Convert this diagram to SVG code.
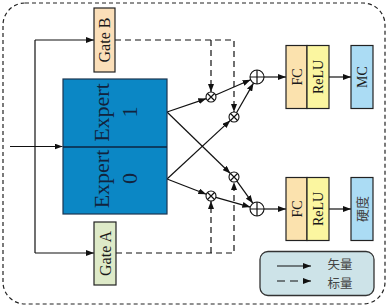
<svg xmlns="http://www.w3.org/2000/svg" width="388" height="307" viewBox="0 0 388 307">
<defs>
<marker id="ah" markerUnits="userSpaceOnUse" markerWidth="8" markerHeight="6" refX="8" refY="3" orient="auto"><path d="M0,0 L8,3 L0,6 z" fill="#111"/></marker>
<style>
.ln{stroke:#111;stroke-width:1.2;fill:none}
.ds{stroke:#111;stroke-width:1.2;fill:none;stroke-dasharray:6 4}
.box{stroke:#222;stroke-width:1.2}
.t{font-family:"Liberation Serif","Times New Roman",serif;fill:#1a1a1a;text-anchor:middle}
.ex{fill:#12233d}
.cjk{font-family:"Noto Sans CJK SC","Noto Sans",sans-serif;fill:#444;text-anchor:middle}
.op{fill:#fff;stroke:#111;stroke-width:1.1}
</style>
</defs>
<rect x="3" y="3" width="382" height="301" rx="22" fill="#fff" stroke="#222" stroke-width="1.2" stroke-dasharray="4 3"/>
<g id="connectors">
<path class="ln" d="M10,146.5 H62.5" marker-end="url(#ah)"/>
<path class="ln" d="M35,40 V253"/>
<path class="ln" d="M35,40 H94" marker-end="url(#ah)"/>
<path class="ln" d="M35,253 H94" marker-end="url(#ah)"/>
<path class="ds" d="M115,40 H234 V112" marker-end="url(#ah)"/>
<path class="ds" d="M211,40 V92" marker-end="url(#ah)"/>
<path class="ds" d="M116,253 H234 V182" marker-end="url(#ah)"/>
<path class="ds" d="M211,253 V201" marker-end="url(#ah)"/>
<path class="ln" d="M167,112 L206.3,98.6" marker-end="url(#ah)"/>
<path class="ln" d="M167,112 L230.4,173.5" marker-end="url(#ah)"/>
<path class="ln" d="M167,179 L230.3,120.4" marker-end="url(#ah)"/>
<path class="ln" d="M167,179 L206.3,194.2" marker-end="url(#ah)"/>
<path class="ln" d="M215.6,95 L250.6,79.8" marker-end="url(#ah)"/>
<path class="ln" d="M236.5,112.7 L253.5,83.1" marker-end="url(#ah)"/>
<path class="ln" d="M236.9,181.1 L252.9,203.3" marker-end="url(#ah)"/>
<path class="ln" d="M215.8,197.4 L250.3,207.1" marker-end="url(#ah)"/>
<path class="ln" d="M264,77 H286" marker-end="url(#ah)"/>
<path class="ln" d="M264,209 H286" marker-end="url(#ah)"/>
<path class="ln" d="M329,77 H351" marker-end="url(#ah)"/>
<path class="ln" d="M329,209 H351" marker-end="url(#ah)"/>
</g>
<g id="gateB">
<rect class="box" x="94" y="8" width="21" height="64" fill="#fbdfb9"/>
<text class="t" font-size="16" transform="translate(110,40) rotate(-90)">Gate B</text>
</g>
<g id="gateA">
<rect class="box" x="94" y="222" width="22" height="63" fill="#deeac8"/>
<text class="t" font-size="16" transform="translate(111,253.5) rotate(-90)">Gate A</text>
</g>
<g id="experts">
<rect x="63" y="79" width="104" height="135" fill="#0b87c5" stroke="#1b3550" stroke-width="1.2"/>
<line x1="63" y1="147" x2="167" y2="147" stroke="#0d2540" stroke-width="1.6"/>
<g id="expert1">
<text class="t ex" font-size="22" transform="translate(109,112.5) rotate(-90)">Expert</text>
<text class="t ex" font-size="22" transform="translate(136.5,112) rotate(-90)">1</text>
</g>
<g id="expert0">
<text class="t ex" font-size="22" transform="translate(109,179) rotate(-90)">Expert</text>
<text class="t ex" font-size="22" transform="translate(136.5,178.5) rotate(-90)">0</text>
</g>
</g>
<g id="mul1"><circle class="op" cx="211" cy="97" r="5"/><path class="ln" stroke-width="1" d="M207.5,93.5 L214.5,100.5 M214.5,93.5 L207.5,100.5"/></g>
<g id="mul2"><circle class="op" cx="234" cy="117" r="5"/><path class="ln" stroke-width="1" d="M230.5,113.5 L237.5,120.5 M237.5,113.5 L230.5,120.5"/></g>
<g id="mul3"><circle class="op" cx="234" cy="177" r="5"/><path class="ln" stroke-width="1" d="M230.5,173.5 L237.5,180.5 M237.5,173.5 L230.5,180.5"/></g>
<g id="mul4"><circle class="op" cx="211" cy="196" r="5"/><path class="ln" stroke-width="1" d="M207.5,192.5 L214.5,199.5 M214.5,192.5 L207.5,199.5"/></g>
<g id="add1"><circle class="op" cx="257" cy="77" r="7"/><path class="ln" stroke-width="1" d="M250,77 H264 M257,70 V84"/></g>
<g id="add2"><circle class="op" cx="257" cy="209" r="7"/><path class="ln" stroke-width="1" d="M250,209 H264 M257,202 V216"/></g>
<g id="fc1">
<rect class="box" x="286" y="45.5" width="21" height="63" fill="#fbe2ae"/>
<text class="t" font-size="14" transform="translate(301.5,77) rotate(-90)">FC</text>
</g>
<g id="relu1">
<rect class="box" x="307" y="45.5" width="22" height="63" fill="#fbf6a0"/>
<text class="t" font-size="14" transform="translate(323,77) rotate(-90)">ReLU</text>
</g>
<g id="mc">
<rect class="box" x="351" y="45.5" width="22" height="63" fill="#abdcf4"/>
<text class="t" font-size="14" transform="translate(367,77) rotate(-90)">MC</text>
</g>
<g id="fc2">
<rect class="box" x="286" y="177.5" width="21" height="63" fill="#fbe2ae"/>
<text class="t" font-size="14" transform="translate(301.5,209) rotate(-90)">FC</text>
</g>
<g id="relu2">
<rect class="box" x="307" y="177.5" width="22" height="63" fill="#fbf6a0"/>
<text class="t" font-size="14" transform="translate(323,209) rotate(-90)">ReLU</text>
</g>
<g id="hardness">
<rect class="box" x="351" y="177.5" width="22" height="63" fill="#abdcf4"/>
<text class="cjk" font-size="13" transform="translate(366.5,209) rotate(-90)">硬度</text>
</g>
<g id="legend">
<rect x="260" y="251.5" width="114" height="44" rx="8" fill="#cde3e8" stroke="#333" stroke-width="1.3"/>
<path class="ln" d="M277,266 H311" marker-end="url(#ah)"/>
<path class="ln" d="M277,281 H311" stroke-dasharray="8 5" marker-end="url(#ah)"/>
<text class="cjk" font-size="12.5" x="340" y="269">矢量</text>
<text class="cjk" font-size="12.5" x="340" y="288">标量</text>
</g>
</svg>
